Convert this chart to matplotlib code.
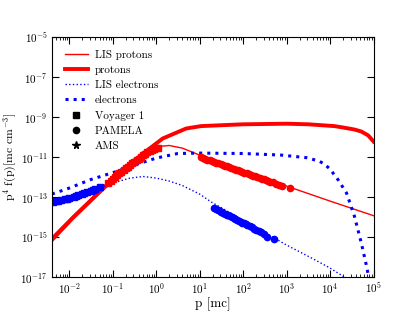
import numpy as np
import matplotlib
matplotlib.use('Agg')
import matplotlib.pyplot as plt
from matplotlib.ticker import FixedLocator, NullLocator, NullFormatter, LogLocator, LogFormatterSciNotation

plt.rcParams['font.family'] = 'serif'
plt.rcParams['font.serif'] = ['cmr10']
plt.rcParams['mathtext.fontset'] = 'cm'
plt.rcParams['axes.formatter.use_mathtext'] = True

# curves, log10 p  vs  log10 p^4 f(p)
lis_p_logp = [-2.4, -1.92, -0.92, -0.58, -0.38, -0.2, 0.0, 0.3, 0.6, 1.0, 1.5, 2.0, 3.0, 4.0, 5.0]
lis_p_logy = [-15.0, -13.95, -11.85, -11.2, -10.9, -10.65, -10.48, -10.42, -10.55, -10.9, -11.3, -11.7, -12.45, -13.2, -13.93]

mod_p_logp = [-2.4, -1.92, -0.92, -0.61, -0.23, 0.15, 0.69, 1.03, 2.0, 3.0, 3.5, 4.1, 4.3, 4.56, 4.72, 4.88, 5.0]
mod_p_logy = [-15.15, -14.05, -11.95, -11.4, -10.7, -10.07, -9.57, -9.45, -9.36, -9.33, -9.36, -9.45, -9.52, -9.62, -9.72, -9.92, -10.22]

lis_e_logp = [-2.4, -2.0, -1.6, -1.38, -1.0, -0.6, -0.3, 0.0, 0.3, 0.6, 1.0, 1.27, 2.0, 3.0, 3.62, 4.0, 4.33, 4.6]
lis_e_logy = [-13.35, -13.1, -12.8, -12.6, -12.3, -12.05, -11.97, -12.05, -12.2, -12.42, -12.85, -13.25, -14.15, -15.4, -16.1, -16.55, -17.0, -17.5]

mod_e_logp = [-2.4, -2.0, -1.5, -1.0, -0.5, 0.0, 0.5, 1.0, 2.0, 2.88, 3.46, 3.75, 3.87, 4.0, 4.19, 4.38, 4.56, 4.72, 4.84, 4.88, 4.93]
mod_e_logy = [-12.85, -12.55, -12.12, -11.78, -11.4, -11.05, -10.82, -10.8, -10.82, -10.9, -11.03, -11.2, -11.35, -11.6, -12.15, -12.8, -13.95, -15.3, -16.45, -16.9, -17.5]

# data
voy_p_logp = [-1.10, -1.05, -1.00, -0.95, -0.90, -0.85, -0.80, -0.75, -0.70, -0.65, -0.60, -0.55,
              -0.50, -0.45, -0.40, -0.35, -0.30, -0.25, -0.20, -0.15, -0.10, -0.05, 0.00, 0.05]
voy_p_logy = [-12.30, -12.20, -12.10, -12.00, -11.90, -11.82, -11.73, -11.65, -11.57, -11.48, -11.40, -11.32,
              -11.25, -11.17, -11.08, -11.00, -10.92, -10.85, -10.77, -10.70, -10.65, -10.60, -10.57, -10.55]

voy_e_logp = [-2.38, -2.3, -2.25, -2.2, -2.1, -2.05, -2.0, -1.9, -1.85, -1.8, -1.7, -1.65, -1.6, -1.5, -1.45, -1.4, -1.3]
voy_e_logy = [-13.23, -13.2, -13.2, -13.15, -13.1, -13.1, -13.05, -13.0, -12.95, -12.9, -12.85, -12.8, -12.75, -12.68, -12.65, -12.6, -12.5]

pam_p_logp = [1.03, 1.08, 1.13, 1.18, 1.23, 1.28, 1.33, 1.38, 1.43, 1.48, 1.53, 1.58, 1.63, 1.68, 1.73, 1.78, 1.83, 1.88, 1.93,
              1.98, 2.03, 2.08, 2.13, 2.18, 2.23, 2.28, 2.33, 2.38, 2.43, 2.48, 2.53, 2.58, 2.63, 2.68, 2.75, 2.82, 2.90, 3.07]
pam_p_logy = [-11.02, -11.06, -11.09, -11.13, -11.17, -11.21, -11.25, -11.28, -11.32, -11.36, -11.40, -11.44, -11.47, -11.51,
              -11.55, -11.59, -11.63, -11.67, -11.70, -11.74, -11.78, -11.82, -11.86, -11.89, -11.93, -11.97, -12.01, -12.05,
              -12.08, -12.12, -12.16, -12.20, -12.24, -12.27, -12.33, -12.38, -12.43, -12.57]

pam_e_logp = [1.34, 1.38, 1.42, 1.46, 1.50, 1.54, 1.58, 1.62, 1.66, 1.70, 1.74, 1.78, 1.82, 1.86, 1.90, 1.94, 1.98,
              2.02, 2.06, 2.10, 2.15, 2.20, 2.25, 2.30, 2.36, 2.42, 2.48, 2.56, 2.72]
pam_e_logy = [-13.57, -13.62, -13.66, -13.70, -13.74, -13.79, -13.83, -13.88, -13.92, -13.97, -14.01, -14.06, -14.10,
              -14.14, -14.19, -14.23, -14.28, -14.32, -14.37, -14.41, -14.47, -14.52, -14.58, -14.64, -14.70, -14.77,
              -14.84, -14.98, -15.12]


def tv(a):
    return 10.0 ** np.array(a)


fig, ax = plt.subplots(figsize=(4.15, 3.12), dpi=100)
fig.subplots_adjust(left=0.125, right=0.9, bottom=0.112, top=0.881)

ax.plot(tv(lis_p_logp), tv(lis_p_logy), color='red', lw=1.0, label='LIS protons')
ax.plot(tv(mod_p_logp), tv(mod_p_logy), color='red', lw=2.8, label='protons')
ax.plot(tv(lis_e_logp), tv(lis_e_logy), color='blue', lw=1.0, ls=':', label='LIS electrons')
ax.plot(tv(mod_e_logp), tv(mod_e_logy), color='blue', lw=2.2, ls=':', label='electrons')

ax.plot(tv(voy_p_logp), tv(voy_p_logy), 's', color='red', ms=4.5, mec='red')
ax.plot(tv(voy_e_logp), tv(voy_e_logy), 's', color='blue', ms=4.5, mec='blue')
ax.plot(tv(pam_p_logp), tv(pam_p_logy), 'o', color='red', ms=4.5, mec='red')
ax.plot(tv(pam_e_logp), tv(pam_e_logy), 'o', color='blue', ms=4.5, mec='blue')

ax.plot([], [], 's', color='k', ms=4, label='Voyager 1')
ax.plot([], [], 'o', color='k', ms=4.5, label='PAMELA')
ax.plot([], [], '*', color='k', ms=5.5, label='AMS')

ax.set_xscale('log')
ax.set_yscale('log')
ax.set_xlim(10 ** -2.4, 1e5)
ax.set_ylim(1e-17, 1e-5)
ax.xaxis.set_major_locator(FixedLocator([10.0 ** k for k in range(-2, 6)]))
ax.xaxis.set_major_formatter(LogFormatterSciNotation())
ax.xaxis.set_minor_locator(LogLocator(base=10, subs=range(2, 10), numticks=20))
ax.xaxis.set_minor_formatter(NullFormatter())
ax.yaxis.set_major_locator(FixedLocator([10.0 ** k for k in range(-17, -4, 2)]))
ax.yaxis.set_major_formatter(LogFormatterSciNotation())
ax.yaxis.set_minor_locator(NullLocator())

ax.tick_params(which='both', direction='in', top=True, right=True, labelsize=8, pad=3)
ax.tick_params(which='major', length=5)
ax.tick_params(which='minor', length=2.5)

ax.set_xlabel('p [mc]', fontsize=9.5, labelpad=1)
ax.set_ylabel('p$^4$ f(p)[mc cm$^{-3}$]', fontsize=8.5, labelpad=1)

ax.legend(loc='upper left', frameon=False, fontsize=8, handlelength=2.1, handletextpad=0.6,
          labelspacing=0.48, borderaxespad=0.75, numpoints=1)

fig.savefig('out.png', dpi=100)
